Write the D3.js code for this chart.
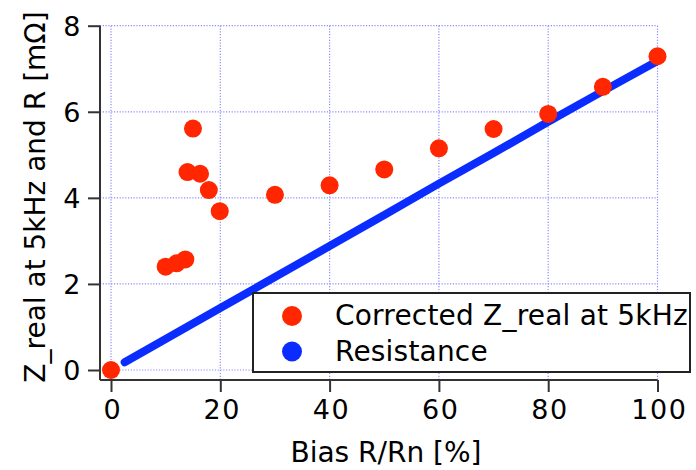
<!DOCTYPE html>
<html><head><meta charset="utf-8">
<script src="https://cdn.jsdelivr.net/npm/d3@7"></script>
<style>body{margin:0;background:#fff}svg{display:block}</style>
</head><body>
<svg id="c" width="696" height="470"></svg>
<script>
// Data
const biasX = [0, 10, 12, 13.6, 14, 15, 16.3, 17.9, 19.9, 30, 40, 50, 60, 70, 80, 90, 100];
const zReal = [0, 2.40, 2.48, 2.57, 4.60, 5.61, 4.56, 4.18, 3.69, 4.07, 4.29, 4.66, 5.15, 5.60, 5.95, 6.58, 7.29];
const resX = [2.5, 10, 20, 30, 40, 50, 60, 70, 80, 90, 100];
const resY = [0.18, 0.72, 1.44, 2.16, 2.88, 3.60, 4.33, 5.04, 5.77, 6.48, 7.18];
const xTicks = [0, 20, 40, 60, 80, 100];
const yTicks = [0, 2, 4, 6, 8];
const legendLabels = ["Corrected Z_real at 5kHz", "Resistance"];
const colors = ["#ff2600", "#0a2cff"];

const svg = d3.select("#c");
const font = "DejaVu Sans, Verdana, sans-serif";
const x = d3.scaleLinear().domain([0, 100]).range([111, 657.5]);
const y = d3.scaleLinear().domain([0, 8]).range([370, 25.7]);
const axisY = 380, axisX = 100;

// grid
const grid = svg.append("g").attr("stroke", "#8c8cff").attr("stroke-width", 1.2).attr("stroke-dasharray", "1.2,1.6");
grid.selectAll(".gx").data(xTicks).join("line")
  .attr("x1", d => x(d)).attr("x2", d => x(d)).attr("y1", y(8)).attr("y2", axisY);
grid.selectAll(".gy").data(yTicks).join("line")
  .attr("y1", d => y(d)).attr("y2", d => y(d)).attr("x1", axisX).attr("x2", x(100));

// axes
const xAxis = d3.axisBottom(x).tickValues(xTicks).tickSize(12).tickPadding(8).tickFormat(d3.format("d"));
const gx = svg.append("g").attr("transform", `translate(0,${axisY})`).call(xAxis);
gx.select(".domain").attr("d", `M${axisX},0H${x(100)}`);
const yAxis = d3.axisLeft(y).tickValues(yTicks).tickSize(12).tickPadding(6).tickFormat(d3.format("d"));
const gy = svg.append("g").attr("transform", `translate(${axisX},0)`).call(yAxis);
gy.select(".domain").attr("d", `M0,${y(8)}V${axisY}`);
[gx, gy].forEach(g => {
  g.selectAll("path,line").attr("stroke", "#333").attr("stroke-width", 2);
  g.selectAll("text").attr("font-family", font).attr("font-size", 27).attr("letter-spacing", 1.5).attr("fill", "#000");
});
gy.selectAll("text").attr("dy", "0.36em");
gx.selectAll("text").attr("dx", "0.05em");

// resistance line
svg.append("path")
  .datum(resX.map((d, i) => [d, resY[i]]))
  .attr("fill", "none").attr("stroke", colors[1]).attr("stroke-width", 8).attr("stroke-linecap", "round")
  .attr("d", d3.line().x(d => x(d[0])).y(d => y(d[1])));

// legend
const lg = svg.append("g");
lg.append("rect").attr("x", 253).attr("y", 293).attr("width", 437).attr("height", 79)
  .attr("fill", "#fff").attr("stroke", "#222").attr("stroke-width", 2);
legendLabels.forEach((t, i) => {
  const cy = 316 + i * 35.5;
  lg.append("circle").attr("cx", 292).attr("cy", cy).attr("r", 10).attr("fill", colors[i]);
  lg.append("text").attr("x", 335).attr("y", cy + 9).attr("font-family", font).attr("font-size", 28)
    .attr("letter-spacing", 0.2).text(t);
});

// red points
svg.append("g").selectAll("circle").data(biasX.map((d, i) => [d, zReal[i]])).join("circle")
  .attr("cx", d => x(d[0])).attr("cy", d => y(d[1])).attr("r", 9).attr("fill", colors[0]);

// titles
svg.append("text").attr("x", 386).attr("y", 462).attr("text-anchor", "middle")
  .attr("font-family", font).attr("font-size", 28).text("Bias R/Rn [%]");
svg.append("text").attr("transform", "translate(45,197) rotate(-90)").attr("text-anchor", "middle")
  .attr("font-family", font).attr("font-size", 28).text("Z_real at 5kHz and R [mΩ]");
</script>
</body></html>
